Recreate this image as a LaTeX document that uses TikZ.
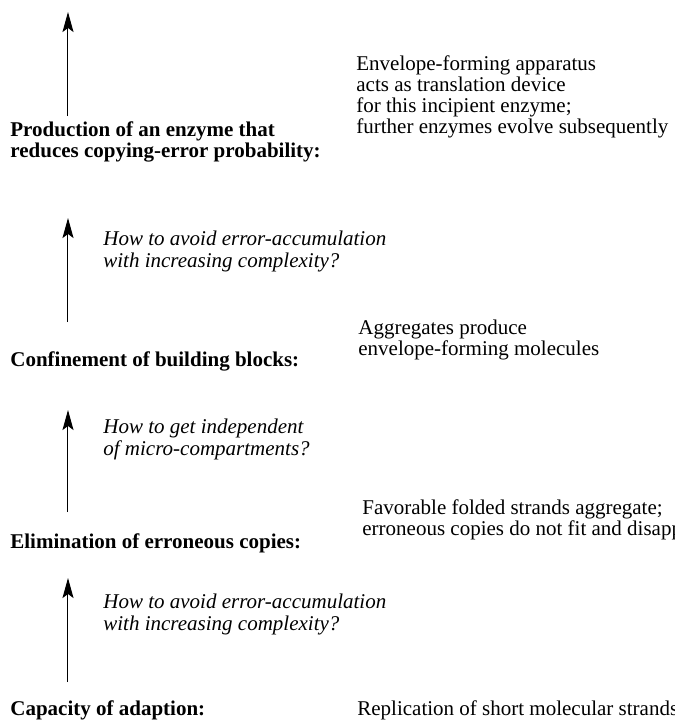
\documentclass[tikz,border=0pt]{standalone}
\usepackage{fontspec}
\setmainfont{Liberation Serif}
\usetikzlibrary{arrows.meta, positioning}

\tikzset{
  stage/.style={anchor=base west, inner sep=0pt, align=left, font=\fontsize{10.5}{10.5}\selectfont\bfseries},
  remark/.style={anchor=base west, inner sep=0pt, align=left, font=\fontsize{10.5}{10.5}\selectfont},
  question/.style={anchor=base west, inner sep=0pt, align=left, font=\fontsize{10.5}{10.75}\selectfont\itshape},
  uparrow/.style={line width=0.5pt, -{Stealth[length=10pt, width=5.5pt, inset=2pt]}}
}

\begin{document}
\begin{tikzpicture}[x=0.5pt, y=-0.5pt]
% Page frame (text runs off at the right)
\clip (0,0) rectangle (675,720);

% Arrow ends
\coordinate (a1s) at (68,116); \coordinate (a1e) at (68,12);
\coordinate (a2s) at (68,322); \coordinate (a2e) at (68,218);
\coordinate (a3s) at (68,512); \coordinate (a3e) at (68,410);
\coordinate (a4s) at (68,682); \coordinate (a4e) at (68,578);

% Level 4: enzyme
\node[stage] (lbl1) at (10,157) {Production of an enzyme that\\reduces copying-error probability:};
\node[remark] (txt1) at (356,133) {Envelope-forming apparatus\\acts as translation device\\for this incipient enzyme;\\further enzymes evolve subsequently};

% Level 3: confinement
\node[stage] (lbl2) at (10,366) {Confinement of building blocks:};
\node[remark] (txt2) at (358,355) {Aggregates produce\\envelope-forming molecules};

% Level 2: elimination
\node[stage] (lbl3) at (10,548) {Elimination of erroneous copies:};
\node[remark] (txt3) at (362,535) {Favorable folded strands aggregate;\\erroneous copies do not fit and disappear};

% Level 1: adaption
\node[stage] (lbl4) at (10,715) {Capacity of adaption:};
\node[remark] (txt4) at (357,715) {Replication of short molecular strands};

% Questions between levels
\node[question] (q1) at (103,267) {How to avoid error-accumulation\\with increasing complexity?};
\node[question] (q2) at (103,455) {How to get independent\\of micro-compartments?};
\node[question] (q3) at (103,630) {How to avoid error-accumulation\\with increasing complexity?};

% Arrows
\draw[uparrow] (a1s) -- (a1e);
\draw[uparrow] (a2s) -- (a2e);
\draw[uparrow] (a3s) -- (a3e);
\draw[uparrow] (a4s) -- (a4e);

\end{tikzpicture}
\end{document}
